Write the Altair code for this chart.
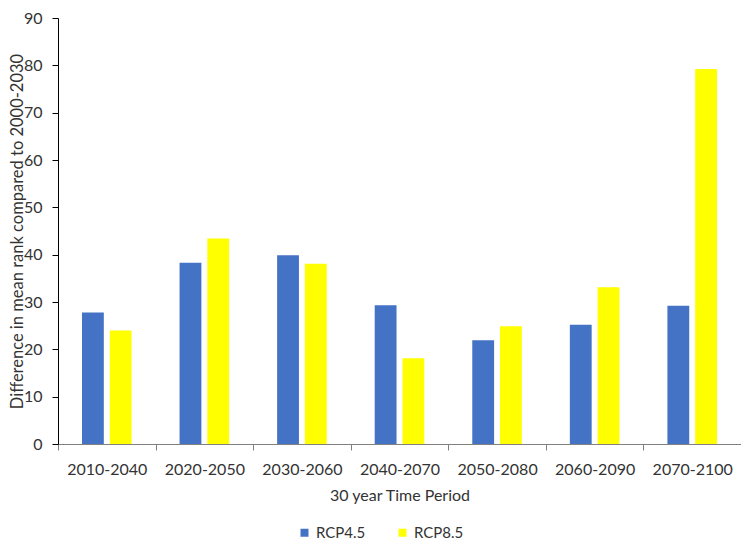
import altair as alt
import pandas as pd

periods = ["2010-2040", "2020-2050", "2030-2060", "2040-2070", "2050-2080", "2060-2090", "2070-2100"]
rcp45 = [27.8, 38.3, 39.9, 29.3, 21.9, 25.2, 29.2]
rcp85 = [24.0, 43.4, 38.1, 18.1, 24.9, 33.1, 79.2]
series = ["RCP4.5", "RCP8.5"]
colors = ["#4472C4", "#FFFF00"]
y_ticks = [0, 10, 20, 30, 40, 50, 60, 70, 80, 90]

rows = []
for p, a, b in zip(periods, rcp45, rcp85):
    rows.append({"period": p, "scenario": series[0], "value": a})
    rows.append({"period": p, "scenario": series[1], "value": b})
df = pd.DataFrame(rows)

FONT = "Lato"
TXT = "#333333"

chart = alt.Chart(df).mark_bar().encode(
    x=alt.X("period:N", sort=periods,
            scale=alt.Scale(paddingInner=0, paddingOuter=0),
            axis=alt.Axis(title="30 year Time Period", labelAngle=0, tickBand="extent",
                          domainColor="#808080", tickColor="#808080", tickSize=6,
                          labelPadding=11, titlePadding=10)),
    xOffset=alt.XOffset("scenario:N", sort=series,
                        scale=alt.Scale(paddingInner=0.214, paddingOuter=0.864)),
    y=alt.Y("value:Q",
            scale=alt.Scale(domain=[0, 90], nice=False),
            axis=alt.Axis(title="Difference in mean rank compared to 2000-2030", values=y_ticks,
                          grid=False, domainColor="#000000", tickColor="#000000", tickSize=6,
                          labelPadding=10, titleFontSize=16.5,
                          titleX=-41, titleBaseline="middle")),
    color=alt.Color("scenario:N", sort=series,
                    scale=alt.Scale(domain=series, range=colors),
                    legend=alt.Legend(title=None, orient="none", direction="horizontal",
                                      legendX=239, legendY=507, symbolType="square",
                                      symbolSize=64, symbolStrokeWidth=0, columnPadding=29,
                                      padding=0, labelOffset=4)),
).properties(
    width=683, height=426,
    padding={"left": 50, "top": 10, "right": 0, "bottom": 96},
    autosize=alt.AutoSizeParams(type="none"),
).configure_view(stroke=None).configure_axis(
    labelFont=FONT, titleFont=FONT, labelFontSize=16, titleFontSize=16,
    labelColor=TXT, titleColor=TXT, titleFontWeight="normal", domainWidth=1,
).configure_legend(
    labelFont=FONT, labelFontSize=15, labelColor=TXT,
)

chart.save("out.html", embed_options={"renderer": "svg", "actions": False})
